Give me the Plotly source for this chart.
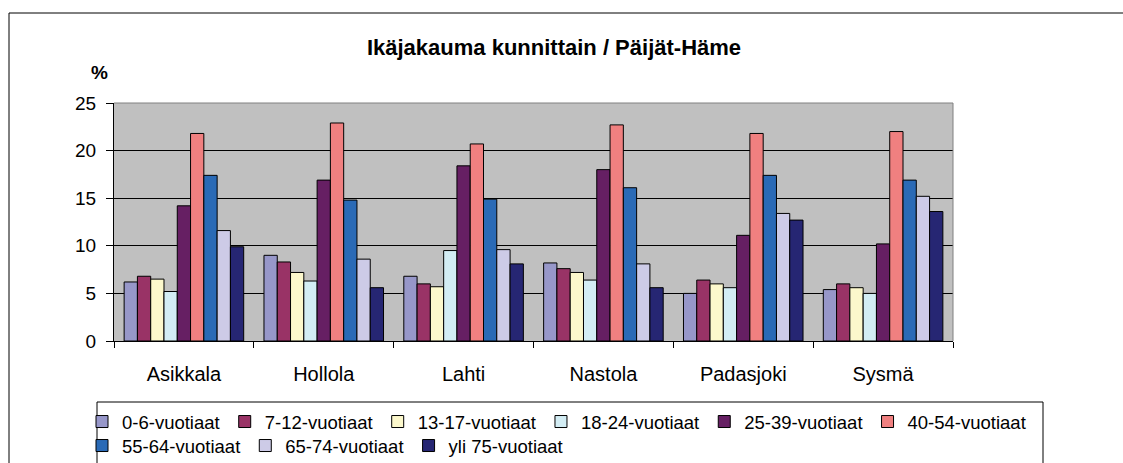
import plotly.graph_objects as go

# ---- data ----
municipalities = ["Asikkala", "Hollola", "Lahti", "Nastola", "Padasjoki", "Sysmä"]
age_groups = ["0-6-vuotiaat", "7-12-vuotiaat", "13-17-vuotiaat", "18-24-vuotiaat",
              "25-39-vuotiaat", "40-54-vuotiaat", "55-64-vuotiaat", "65-74-vuotiaat",
              "yli 75-vuotiaat"]
v_0_6 = [6.2, 9.0, 6.8, 8.2, 5.0, 5.4]
v_7_12 = [6.8, 8.3, 6.0, 7.6, 6.4, 6.0]
v_13_17 = [6.5, 7.2, 5.7, 7.2, 6.0, 5.6]
v_18_24 = [5.2, 6.3, 9.5, 6.4, 5.6, 5.0]
v_25_39 = [14.2, 16.9, 18.4, 18.0, 11.1, 10.2]
v_40_54 = [21.8, 22.9, 20.7, 22.7, 21.8, 22.0]
v_55_64 = [17.4, 14.8, 14.9, 16.1, 17.4, 16.9]
v_65_74 = [11.6, 8.6, 9.6, 8.1, 13.4, 15.2]
v_75 = [9.9, 5.6, 8.1, 5.6, 12.7, 13.6]
series_values = [v_0_6, v_7_12, v_13_17, v_18_24, v_25_39, v_40_54, v_55_64, v_65_74, v_75]
colors = ["#9797C9", "#993366", "#FCF8CC", "#D3EDF4", "#661F63",
          "#F08080", "#2A6AB6", "#CDCBE7", "#262673"]
y_ticks = [0, 5, 10, 15, 20, 25]

# ---- layout geometry (pixels) ----
W, H = 1123, 463
ML, MR, MT, MB = 114, 170, 103, 122
PW, PH = W - ML - MR, H - MT - MB


def px_x(px):
    return (px - ML) / PW


def px_y(py):
    return (H - MB - py) / PH


FONT = "Liberation Sans, Arial, sans-serif"
TXT = 19
LEG = 18.5

fig = go.Figure()
for i, (name, vals, col) in enumerate(zip(age_groups, series_values, colors)):
    fig.add_trace(go.Bar(
        x=municipalities, y=vals, name=name,
        marker=dict(color=col, line=dict(color="#000000", width=1)),
        legend="legend" if i < 6 else "legend2",
        hovertemplate="%{x}<br>" + name + ": %{y}<extra></extra>",
    ))

fig.update_layout(
    width=W, height=H,
    margin=dict(l=ML, r=MR, t=MT, b=MB, autoexpand=False),
    paper_bgcolor="#FFFFFF",
    plot_bgcolor="#C0C0C0",
    barmode="group", bargap=0.145, bargroupgap=0,
    font=dict(family=FONT, size=TXT, color="#000000"),
    title=dict(text="<b>Ikäjakauma kunnittain / Päijät-Häme</b>",
               x=554 / W, xref="container", xanchor="center",
               y=1 - 47 / H, yref="container", yanchor="middle",
               font=dict(family=FONT, size=22, color="#000000")),
    xaxis=dict(type="category", tickson="boundaries", ticks="outside", ticklen=6,
               tickcolor="#000000", showline=True, linecolor="#000000", linewidth=1,
               showgrid=False, tickfont=dict(size=20), ticklabelstandoff=15),
    yaxis=dict(range=[0, 25], tickvals=y_ticks, ticks="outside", ticklen=7,
               tickcolor="#000000", showline=True, linecolor="#000000", linewidth=1,
               showgrid=True, gridcolor="#000000", gridwidth=1, zeroline=False,
               tickfont=dict(size=TXT), ticklabelstandoff=6),
    legend=dict(orientation="h", x=px_x(82), xanchor="left",
                y=px_y(403), yanchor="top", bgcolor="rgba(0,0,0,0)",
                font=dict(size=LEG), itemwidth=30, tracegroupgap=0),
    legend2=dict(orientation="h", x=px_x(82), xanchor="left",
                 y=px_y(427), yanchor="top", bgcolor="rgba(0,0,0,0)",
                 font=dict(size=LEG), itemwidth=30, tracegroupgap=0),
    showlegend=True,
    shapes=[
        # outer chart border
        dict(type="rect", xref="paper", yref="paper",
             x0=px_x(9), x1=px_x(1140), y0=px_y(13), y1=px_y(480),
             line=dict(color="#000000", width=1), fillcolor="rgba(0,0,0,0)", layer="above"),
        # plot area border (top, right)
        dict(type="line", xref="paper", yref="paper", x0=0, x1=1, y0=1, y1=1,
             line=dict(color="#808080", width=1), layer="above"),
        dict(type="line", xref="paper", yref="paper", x0=1, x1=1, y0=0, y1=1,
             line=dict(color="#808080", width=1), layer="above"),
        # legend frame
        dict(type="rect", xref="paper", yref="paper",
             x0=px_x(97), x1=px_x(1043), y0=px_y(402), y1=px_y(480),
             line=dict(color="#000000", width=1), fillcolor="rgba(0,0,0,0)", layer="above"),
    ],
    annotations=[
        dict(text="<b>%</b>", xref="paper", yref="paper", x=px_x(99), y=px_y(72),
             xanchor="center", yanchor="middle", showarrow=False,
             font=dict(family=FONT, size=19, color="#000000")),
    ],
)

fig.write_html(
    "out.html",
    config={"displayModeBar": False},
    post_script="document.body.style.margin='0';document.body.style.overflow='hidden';",
)
